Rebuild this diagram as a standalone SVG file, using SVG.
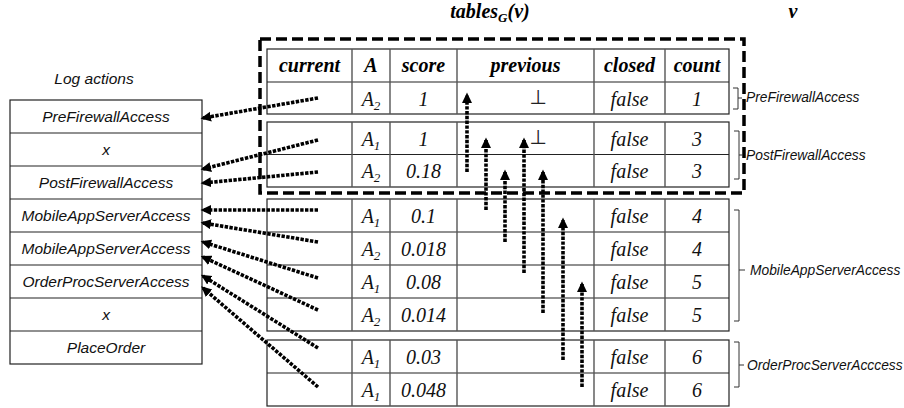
<svg xmlns="http://www.w3.org/2000/svg" width="904" height="408" viewBox="0 0 904 408">
  <defs>
    <marker id="head" markerUnits="userSpaceOnUse" markerWidth="11" markerHeight="11" refX="8" refY="5" orient="auto">
      <path d="M0,0 L10.5,5 L0,10 z" fill="#000"/>
    </marker>
    <style>
      .cell { fill: #fff; stroke: #222; stroke-width: 1.2; }
      .hl { stroke: #222; stroke-width: 1.2; }
      .vl { stroke: #555; stroke-width: 1.4; }
      .tt { font-family: "Liberation Serif", "Times New Roman", serif; font-style: italic; font-size: 20px; fill: #111; text-anchor: middle; }
      .th { font-family: "Liberation Serif", "Times New Roman", serif; font-style: italic; font-weight: bold; font-size: 20px; fill: #000; text-anchor: middle; }
      .bot { font-family: "DejaVu Sans", "Liberation Serif", sans-serif; font-size: 20px; fill: #222; text-anchor: middle; }
      .sub { font-size: 13px; }
      .st { font-family: "Liberation Sans", Arial, sans-serif; font-style: italic; font-size: 15.5px; fill: #111; text-anchor: middle; }
      .lab { font-family: "Liberation Sans", Arial, sans-serif; font-style: italic; font-size: 13.8px; fill: #111; }
      .br { fill: none; stroke: #333; stroke-width: 1; }
      .dot { fill: none; stroke: #000; stroke-width: 3.6; stroke-dasharray: 3.4 1.4; marker-end: url(#head); }
      .dash { fill: none; stroke: #000; stroke-width: 3.5; stroke-dasharray: 11 5; }
    </style>
  </defs>

  <!-- titles -->
  <text class="th" x="490" y="18">tables<tspan class="sub" dy="4">G</tspan><tspan dy="-4">(v)</tspan></text>
  <text class="th" x="793" y="18">v</text>

  <!-- log action list -->
  <g id="log-actions">
    <text class="st" x="94" y="84">Log actions</text>
    <rect class="cell" x="10" y="100" width="192" height="264"/>
    <line class="hl" x1="10" y1="133" x2="202" y2="133"/>
    <line class="hl" x1="10" y1="166" x2="202" y2="166"/>
    <line class="hl" x1="10" y1="199" x2="202" y2="199"/>
    <line class="hl" x1="10" y1="232" x2="202" y2="232"/>
    <line class="hl" x1="10" y1="265" x2="202" y2="265"/>
    <line class="hl" x1="10" y1="298" x2="202" y2="298"/>
    <line class="hl" x1="10" y1="331" x2="202" y2="331"/>
    <text class="st" x="106" y="122">PreFirewallAccess</text>
    <text class="st" x="106" y="155">x</text>
    <text class="st" x="106" y="188">PostFirewallAccess</text>
    <text class="st" x="106" y="221">MobileAppServerAccess</text>
    <text class="st" x="106" y="254">MobileAppServerAccess</text>
    <text class="st" x="106" y="287">OrderProcServerAccess</text>
    <text class="st" x="106" y="320">x</text>
    <text class="st" x="106" y="353">PlaceOrder</text>
  </g>

  <!-- header + PreFirewallAccess table -->
  <g id="table-pre">
    <rect class="cell" x="267" y="49" width="462" height="65"/>
    <line class="hl" x1="267" y1="82" x2="729" y2="82"/>
    <line class="vl" x1="352" y1="49" x2="352" y2="114"/>
    <line class="vl" x1="390" y1="49" x2="390" y2="114"/>
    <line class="vl" x1="457" y1="49" x2="457" y2="114"/>
    <line class="vl" x1="594" y1="49" x2="594" y2="114"/>
    <line class="vl" x1="665" y1="49" x2="665" y2="114"/>
    <text class="th" x="309.5" y="72">current</text>
    <text class="th" x="371" y="72">A</text>
    <text class="th" x="423.5" y="72">score</text>
    <text class="th" x="525.5" y="72">previous</text>
    <text class="th" x="629.5" y="72">closed</text>
    <text class="th" x="697" y="72">count</text>
    <text class="tt" x="371" y="105.5">A<tspan class="sub" dy="4">2</tspan></text>
    <text class="tt" x="423.5" y="105.5">1</text>
    <text class="bot" x="538" y="104">⊥</text>
    <text class="tt" x="629.5" y="105.5">false</text>
    <text class="tt" x="697" y="105.5">1</text>
  </g>

  <!-- PostFirewallAccess table -->
  <g id="table-post">
    <rect class="cell" x="267" y="122" width="462" height="65"/>
    <line class="hl" x1="267" y1="154.5" x2="729" y2="154.5"/>
    <line class="vl" x1="352" y1="122" x2="352" y2="187"/>
    <line class="vl" x1="390" y1="122" x2="390" y2="187"/>
    <line class="vl" x1="457" y1="122" x2="457" y2="187"/>
    <line class="vl" x1="594" y1="122" x2="594" y2="187"/>
    <line class="vl" x1="665" y1="122" x2="665" y2="187"/>
    <text class="tt" x="371" y="145.5">A<tspan class="sub" dy="4">1</tspan></text>
    <text class="tt" x="423.5" y="145.5">1</text>
    <text class="bot" x="538" y="144">⊥</text>
    <text class="tt" x="629.5" y="145.5">false</text>
    <text class="tt" x="697" y="145.5">3</text>
    <text class="tt" x="371" y="178">A<tspan class="sub" dy="4">2</tspan></text>
    <text class="tt" x="423.5" y="178">0.18</text>
    <text class="tt" x="629.5" y="178">false</text>
    <text class="tt" x="697" y="178">3</text>
  </g>

  <!-- MobileAppServerAccess table -->
  <g id="table-mobile">
    <rect class="cell" x="267" y="199" width="462" height="132"/>
    <line class="hl" x1="267" y1="232" x2="729" y2="232"/>
    <line class="hl" x1="267" y1="265" x2="729" y2="265"/>
    <line class="hl" x1="267" y1="298" x2="729" y2="298"/>
    <line class="vl" x1="352" y1="199" x2="352" y2="331"/>
    <line class="vl" x1="390" y1="199" x2="390" y2="331"/>
    <line class="vl" x1="457" y1="199" x2="457" y2="331"/>
    <line class="vl" x1="594" y1="199" x2="594" y2="331"/>
    <line class="vl" x1="665" y1="199" x2="665" y2="331"/>
    <text class="tt" x="371" y="223">A<tspan class="sub" dy="4">1</tspan></text>
    <text class="tt" x="423.5" y="223">0.1</text>
    <text class="tt" x="629.5" y="223">false</text>
    <text class="tt" x="697" y="223">4</text>
    <text class="tt" x="371" y="256">A<tspan class="sub" dy="4">2</tspan></text>
    <text class="tt" x="423.5" y="256">0.018</text>
    <text class="tt" x="629.5" y="256">false</text>
    <text class="tt" x="697" y="256">4</text>
    <text class="tt" x="371" y="289">A<tspan class="sub" dy="4">1</tspan></text>
    <text class="tt" x="423.5" y="289">0.08</text>
    <text class="tt" x="629.5" y="289">false</text>
    <text class="tt" x="697" y="289">5</text>
    <text class="tt" x="371" y="322">A<tspan class="sub" dy="4">2</tspan></text>
    <text class="tt" x="423.5" y="322">0.014</text>
    <text class="tt" x="629.5" y="322">false</text>
    <text class="tt" x="697" y="322">5</text>
  </g>

  <!-- OrderProcServerAccess table -->
  <g id="table-order">
    <rect class="cell" x="267" y="340" width="462" height="66"/>
    <line class="hl" x1="267" y1="373" x2="729" y2="373"/>
    <line class="vl" x1="352" y1="340" x2="352" y2="406"/>
    <line class="vl" x1="390" y1="340" x2="390" y2="406"/>
    <line class="vl" x1="457" y1="340" x2="457" y2="406"/>
    <line class="vl" x1="594" y1="340" x2="594" y2="406"/>
    <line class="vl" x1="665" y1="340" x2="665" y2="406"/>
    <text class="tt" x="371" y="364">A<tspan class="sub" dy="4">1</tspan></text>
    <text class="tt" x="423.5" y="364">0.03</text>
    <text class="tt" x="629.5" y="364">false</text>
    <text class="tt" x="697" y="364">6</text>
    <text class="tt" x="371" y="397">A<tspan class="sub" dy="4">1</tspan></text>
    <text class="tt" x="423.5" y="397">0.048</text>
    <text class="tt" x="629.5" y="397">false</text>
    <text class="tt" x="697" y="397">6</text>
  </g>

  <!-- dashed frame around the firewall tables -->
  <g id="firewall-frame">
    <rect class="dash" x="260" y="39" width="484" height="154"/>
  </g>

  <!-- group brackets and labels -->
  <g id="brackets">
    <path class="br" d="M733,88 H738 V109 H733 M738,98 H742"/>
    <text class="lab" x="746" y="102">PreFirewallAccess</text>
    <path class="br" d="M734,131 H739 V179 H734 M739,155 H743"/>
    <text class="lab" x="746" y="160">PostFirewallAccess</text>
    <path class="br" d="M734,210 H739 V321 H734 M739,270 H745"/>
    <text class="lab" x="750" y="275">MobileAppServerAccess</text>
    <path class="br" d="M734,342 H739 V387 H734 M739,365 H744"/>
    <text class="lab" x="747" y="370">OrderProcServerAcccess</text>
  </g>

  <!-- connectors -->
  <g id="connectors">
    <line class="dot" x1="318" y1="98" x2="203" y2="118"/>
    <line class="dot" x1="318" y1="140" x2="203" y2="169"/>
    <line class="dot" x1="318" y1="172" x2="203" y2="183"/>
    <line class="dot" x1="318" y1="210" x2="203" y2="210"/>
    <line class="dot" x1="318" y1="242" x2="203" y2="223"/>
    <line class="dot" x1="318" y1="278" x2="203" y2="242"/>
    <line class="dot" x1="318" y1="310" x2="203" y2="257"/>
    <line class="dot" x1="318" y1="348" x2="203" y2="276"/>
    <line class="dot" x1="318" y1="387" x2="203" y2="288"/>

    <line class="dot" x1="467" y1="172" x2="467" y2="95"/>
    <line class="dot" x1="486" y1="210" x2="486" y2="140"/>
    <line class="dot" x1="505" y1="242" x2="505" y2="172"/>
    <line class="dot" x1="524" y1="273" x2="524" y2="140"/>
    <line class="dot" x1="543" y1="313" x2="543" y2="172"/>
    <line class="dot" x1="563" y1="360" x2="563" y2="220"/>
    <line class="dot" x1="582" y1="387" x2="582" y2="284"/>
  </g>
</svg>
